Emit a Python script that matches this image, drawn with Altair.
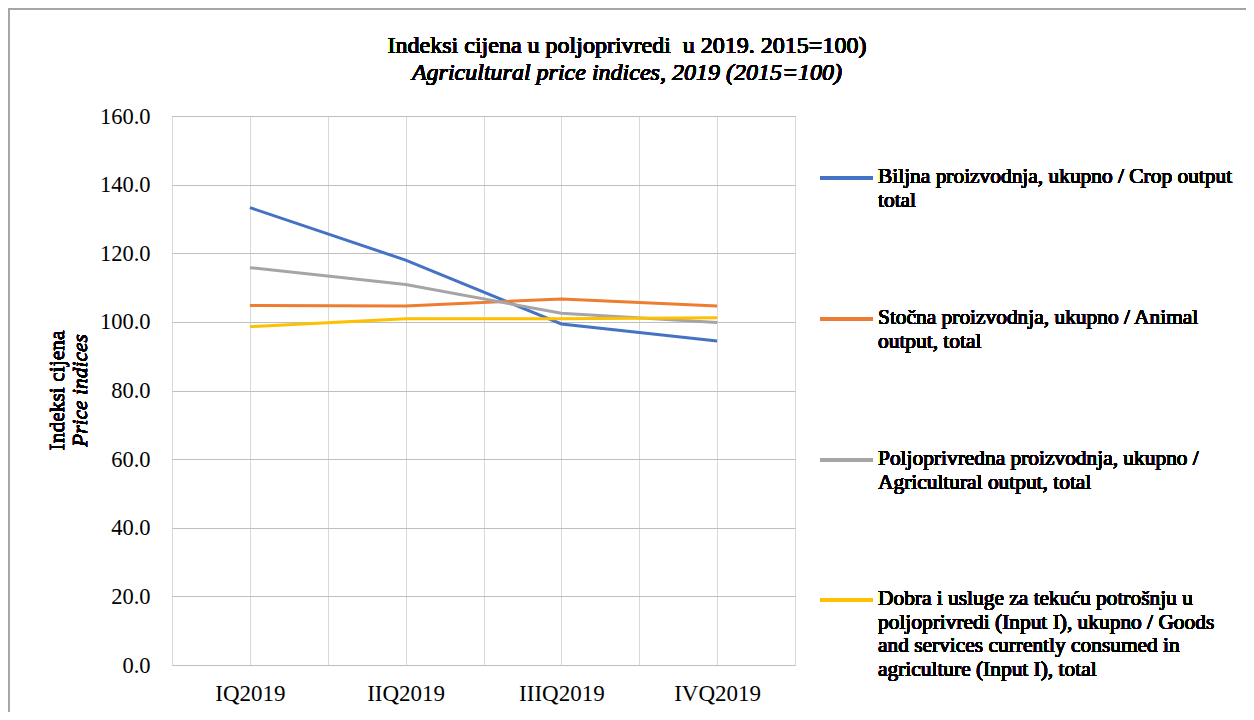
import altair as alt
import pandas as pd

quarters = ["IQ2019", "IIQ2019", "IIIQ2019", "IVQ2019"]
series_names = [
    "Biljna proizvodnja, ukupno / Crop output total",
    "Stočna proizvodnja, ukupno / Animal output, total",
    "Poljoprivredna proizvodnja, ukupno / Agricultural output, total",
    "Dobra i usluge za tekuću potrošnju u poljoprivredi (Input I), ukupno / Goods and services currently consumed in agriculture (Input I), total",
]
legend_lines = [
    ["Biljna proizvodnja, ukupno / Crop output", "total"],
    ["Stočna proizvodnja, ukupno / Animal", "output, total"],
    ["Poljoprivredna proizvodnja, ukupno /", "Agricultural output, total"],
    ["Dobra i usluge za tekuću potrošnju u", "poljoprivredi (Input I), ukupno / Goods",
     "and services currently consumed in", "agriculture (Input I), total"],
]
title_text = "Indeksi cijena u poljoprivredi\u00a0 u 2019. 2015=100)"
subtitle_text = "Agricultural price indices, 2019 (2015=100)"
crop = [133.3, 118.0, 99.4, 94.4]
animal = [104.8, 104.6, 106.7, 104.6]
agri = [115.8, 110.9, 102.5, 99.8]
inputs = [98.6, 100.9, 100.9, 101.2]
colors = ["#4472C4", "#ED7D31", "#A5A5A5", "#FFC000"]

FONT = "Liberation Serif"
W, H = 623, 549

rows = []
for name, vals in zip(series_names, [crop, animal, agri, inputs]):
    for i, (q, v) in enumerate(zip(quarters, vals)):
        rows.append({"series": name, "quarter": q, "idx": i, "value": v})
df = pd.DataFrame(rows)

label_expr = ("datum.value == 0 ? 'IQ2019' : datum.value == 1 ? 'IIQ2019' : "
              "datum.value == 2 ? 'IIIQ2019' : datum.value == 3 ? 'IVQ2019' : ''")

lines = alt.Chart(df).mark_line(strokeWidth=3).encode(
    x=alt.X("idx:Q",
            scale=alt.Scale(domain=[-0.5, 3.5], nice=False, zero=False),
            axis=alt.Axis(values=[-0.5, 0, 0.5, 1, 1.5, 2, 2.5, 3, 3.5],
                          labelExpr=label_expr, title=None, ticks=False,
                          domain=False, grid=True, gridColor="#d9d9d9",
                          labelFont=FONT, labelFontSize=23, labelColor="#000000",
                          labelPadding=17)),
    y=alt.Y("value:Q",
            scale=alt.Scale(domain=[0, 160], nice=False),
            axis=alt.Axis(values=[0, 20, 40, 60, 80, 100, 120, 140, 160],
                          format=".1f", title=None, ticks=False, domain=False,
                          grid=True, gridColor="#bfbfbf",
                          labelFont=FONT, labelFontSize=22.5, labelColor="#000000",
                          labelPadding=22)),
    color=alt.Color("series:N", scale=alt.Scale(domain=series_names, range=colors),
                    legend=None),
    detail="series:N",
)

layers = [lines]

# chart title (two lines, second italic), centred over the whole chart
layers.append(alt.Chart(df).mark_text(
    text=title_text, font=FONT, fontSize=24, color="#000000"
).encode(x=alt.value(455), y=alt.value(-70)))
layers.append(alt.Chart(df).mark_text(
    text=subtitle_text, font=FONT, fontSize=24, fontStyle="italic", color="#000000"
).encode(x=alt.value(455), y=alt.value(-43)))

# y axis title (two styles)
layers.append(alt.Chart(df).mark_text(
    text="Indeksi cijena", angle=270, font=FONT, fontSize=21.5, color="#000000"
).encode(x=alt.value(-114), y=alt.value(H / 2)))
layers.append(alt.Chart(df).mark_text(
    text="Price indices", angle=270, font=FONT, fontSize=21.5, fontStyle="italic",
    color="#000000"
).encode(x=alt.value(-91), y=alt.value(H / 2)))

# manual legend
legend_y = [62, 203, 344, 484]
for name, lns, col, ly in zip(series_names, legend_lines, colors, legend_y):
    layers.append(alt.Chart(df).mark_rule(color=col, strokeWidth=3).encode(
        x=alt.value(648), x2=alt.value(701), y=alt.value(ly)))
    layers.append(alt.Chart(df).mark_text(
        text=lns, align="left", baseline="top", font=FONT, fontSize=21.4,
        lineHeight=23.5, color="#000000"
    ).encode(x=alt.value(706), y=alt.value(ly - 12)))

# outer frame (left and top edges)
layers.append(alt.Chart(df).mark_rule(color="#a6a6a6", strokeWidth=1.5).encode(
    x=alt.value(-163.5), y=alt.value(-107), y2=alt.value(700)))
layers.append(alt.Chart(df).mark_rule(color="#a6a6a6", strokeWidth=1.5).encode(
    x=alt.value(-163.5), x2=alt.value(1200), y=alt.value(-107)))

chart = alt.layer(*layers).properties(
    width=W, height=H,
    autosize=alt.AutoSizeParams(type="none"),
    padding={"left": 164, "top": 108, "right": 451, "bottom": 47},
).configure_view(stroke="#a6a6a6", strokeWidth=1.2).configure(background="white")

chart.save("out.html", embed_options={"renderer": "svg", "actions": False})
